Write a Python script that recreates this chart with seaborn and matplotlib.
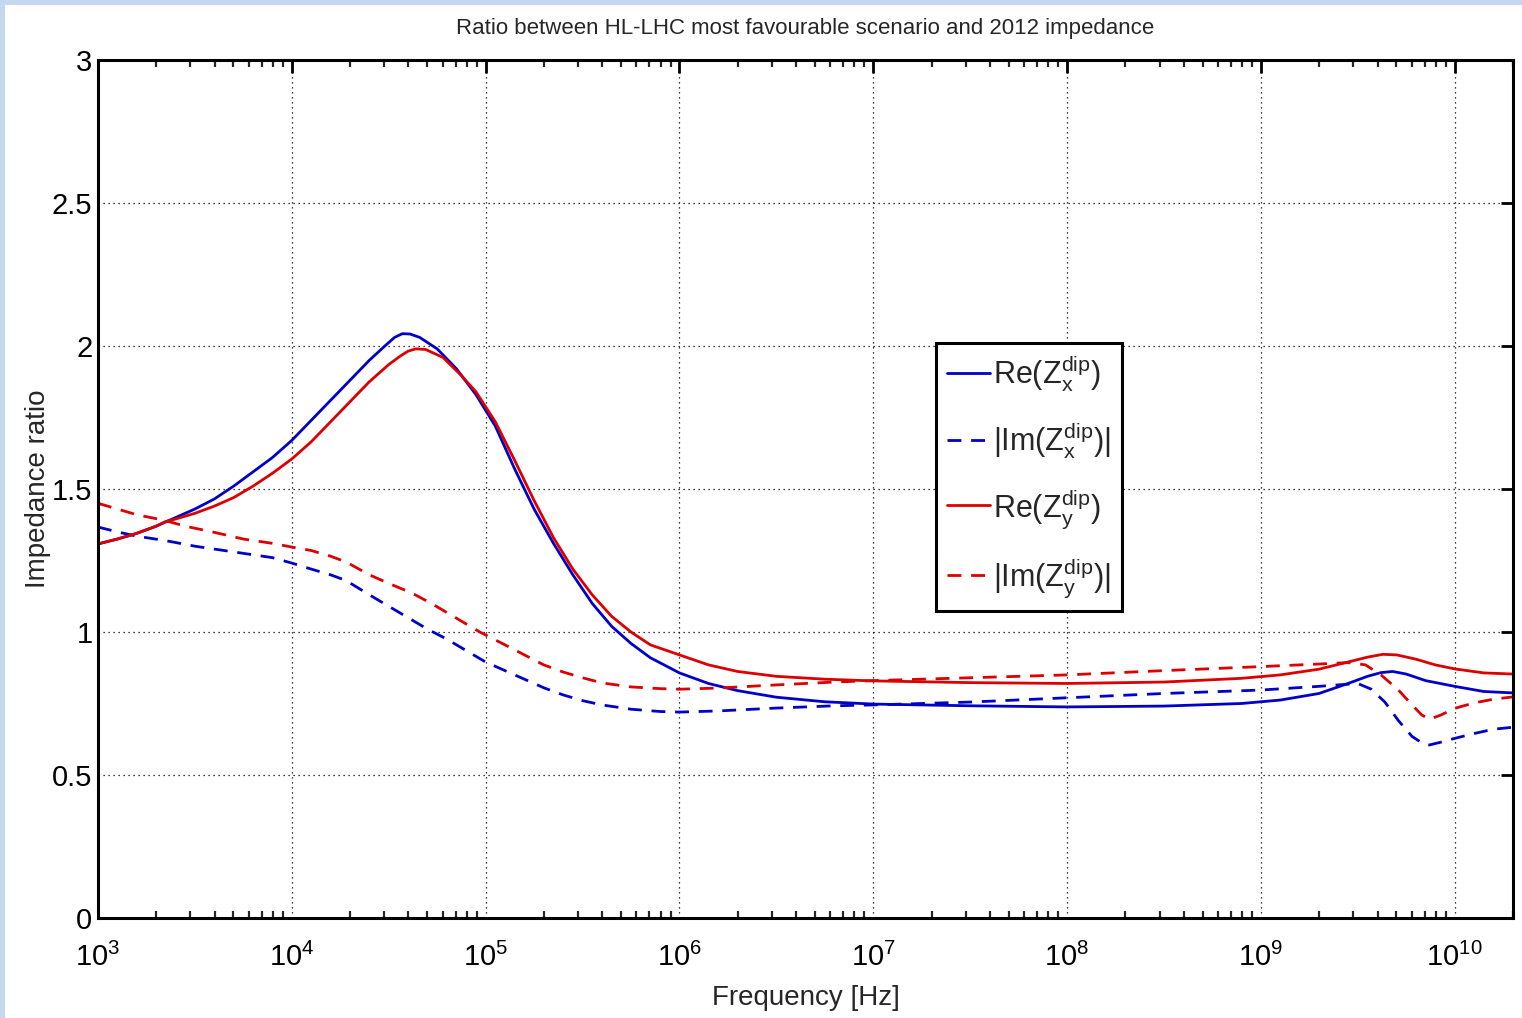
import numpy as np
import pandas as pd
import matplotlib
matplotlib.use("Agg")
import matplotlib.pyplot as plt
from matplotlib.patches import Rectangle
from matplotlib.ticker import FixedLocator, NullFormatter
import seaborn as sns

# ---- data ----
# Re(Zx) blue solid: log10(frequency) and ratio
re_x_logf = [3.0, 3.1, 3.2, 3.3, 3.4, 3.5, 3.6, 3.7, 3.8, 3.9, 4.0, 4.1, 4.2, 4.3, 4.4,
             4.48, 4.53, 4.57, 4.61, 4.66, 4.75, 4.85, 4.95, 5.05, 5.15, 5.25, 5.35, 5.45,
             5.55, 5.65, 5.75, 5.85, 6.0, 6.15, 6.3, 6.5, 6.75, 7.0, 7.5, 8.0, 8.5, 8.9,
             9.1, 9.3, 9.45, 9.55, 9.62, 9.68, 9.75, 9.85, 10.0, 10.15, 10.3]
re_x_val = [1.308, 1.325, 1.345, 1.37, 1.40, 1.43, 1.465, 1.51, 1.56, 1.61, 1.67, 1.74,
            1.81, 1.88, 1.95, 2.0, 2.03, 2.043, 2.042, 2.03, 1.99, 1.92, 1.83, 1.72, 1.57,
            1.43, 1.31, 1.20, 1.10, 1.02, 0.96, 0.91, 0.857, 0.82, 0.795, 0.772, 0.756,
            0.748, 0.742, 0.738, 0.741, 0.75, 0.762, 0.785, 0.82, 0.845, 0.858, 0.862,
            0.853, 0.83, 0.81, 0.792, 0.787]

# |Im(Zx)| blue dashed
im_x_logf = [3.0, 3.1, 3.2, 3.345, 3.5, 3.6, 3.75, 3.9, 4.0, 4.1, 4.2, 4.28, 4.4, 4.5,
             4.6, 4.7, 4.8, 4.9, 5.0, 5.1, 5.2, 5.3, 5.4, 5.5, 5.6, 5.75, 5.9, 6.0, 6.2,
             6.5, 6.8, 7.0, 7.5, 8.0, 8.5, 9.0, 9.3, 9.5, 9.57, 9.64, 9.71, 9.78, 9.84,
             9.87, 9.93, 10.0, 10.1, 10.2, 10.3]
im_x_val = [1.367, 1.35, 1.335, 1.32, 1.30, 1.29, 1.275, 1.26, 1.241, 1.22, 1.20, 1.18,
            1.13, 1.09, 1.05, 1.01, 0.975, 0.935, 0.895, 0.865, 0.835, 0.805, 0.78, 0.76,
            0.745, 0.73, 0.722, 0.72, 0.724, 0.734, 0.742, 0.745, 0.755, 0.77, 0.785,
            0.797, 0.81, 0.82, 0.80, 0.755, 0.69, 0.635, 0.608, 0.605, 0.615, 0.628, 0.645,
            0.66, 0.667]

# Re(Zy) red solid
re_y_logf = [3.0, 3.1, 3.2, 3.3, 3.345, 3.4, 3.5, 3.6, 3.7, 3.8, 3.9, 4.0, 4.1, 4.2, 4.3,
             4.4, 4.5, 4.56, 4.6, 4.64, 4.69, 4.78, 4.87, 4.95, 5.05, 5.15, 5.25, 5.35,
             5.45, 5.55, 5.65, 5.75, 5.85, 6.0, 6.15, 6.3, 6.5, 6.75, 7.0, 7.5, 8.0, 8.5,
             8.9, 9.1, 9.3, 9.45, 9.55, 9.63, 9.7, 9.8, 9.9, 10.0, 10.15, 10.3]
re_y_val = [1.308, 1.325, 1.345, 1.37, 1.385, 1.395, 1.415, 1.44, 1.47, 1.51, 1.555,
            1.605, 1.665, 1.735, 1.805, 1.875, 1.935, 1.965, 1.982, 1.99, 1.988, 1.96,
            1.90, 1.84, 1.735, 1.60, 1.46, 1.33, 1.22, 1.13, 1.055, 1.00, 0.955, 0.92,
            0.885, 0.862, 0.845, 0.835, 0.829, 0.823, 0.82, 0.825, 0.838, 0.85, 0.87,
            0.895, 0.912, 0.922, 0.92, 0.905, 0.885, 0.871, 0.857, 0.853]

# |Im(Zy)| red dashed
im_y_logf = [3.0, 3.1, 3.2, 3.345, 3.45, 3.59, 3.75, 3.9, 4.0, 4.1, 4.2, 4.28, 4.4, 4.5,
             4.62, 4.72, 4.82, 4.97, 5.1, 5.2, 5.3, 5.4, 5.5, 5.6, 5.75, 5.9, 6.0, 6.2,
             6.5, 6.8, 7.0, 7.5, 8.0, 8.5, 9.0, 9.3, 9.45, 9.54, 9.62, 9.71, 9.78, 9.83,
             9.87, 9.93, 10.0, 10.1, 10.2, 10.3]
im_y_val = [1.45, 1.43, 1.41, 1.39, 1.37, 1.35, 1.325, 1.31, 1.297, 1.285, 1.265, 1.245,
            1.20, 1.17, 1.136, 1.10, 1.06, 1.00, 0.955, 0.92, 0.885, 0.86, 0.84, 0.822,
            0.808, 0.802, 0.80, 0.804, 0.815, 0.825, 0.83, 0.84, 0.85, 0.865, 0.879, 0.888,
            0.893, 0.885, 0.85, 0.797, 0.745, 0.71, 0.695, 0.71, 0.733, 0.752, 0.765, 0.773]

series = [
    (r"Re(Z$_\mathrm{x}^\mathrm{dip}$)", re_x_logf, re_x_val, "#0000c8", "-"),
    (r"|Im(Z$_\mathrm{x}^\mathrm{dip}$)|", im_x_logf, im_x_val, "#0000c8", "--"),
    (r"Re(Z$_\mathrm{y}^\mathrm{dip}$)", re_y_logf, re_y_val, "#dc0000", "-"),
    (r"|Im(Z$_\mathrm{y}^\mathrm{dip}$)|", im_y_logf, im_y_val, "#dc0000", "--"),
]

y_ticks = [0, 0.5, 1, 1.5, 2, 2.5, 3]
y_ticklabels = ["0", "0.5", "1", "1.5", "2", "2.5", "3"]
x_decades = [3, 4, 5, 6, 7, 8, 9, 10]
x_ticklabels = [r"$\mathdefault{10^{%d}}$" % d for d in x_decades]

# ---- style ----
sns.set_theme(style="white")
plt.rcParams["font.family"] = ["Liberation Sans", "DejaVu Sans"]
plt.rcParams["mathtext.fontset"] = "custom"
plt.rcParams["mathtext.rm"] = "Liberation Sans"
plt.rcParams["mathtext.it"] = "Liberation Sans:italic"
plt.rcParams["mathtext.default"] = "rm"

fig = plt.figure(figsize=(15.22, 10.18), dpi=100, facecolor="white")
# light blue frame strips (top and left)
fig.patches.append(Rectangle((0, 1 - 5 / 1018), 1, 5 / 1018, transform=fig.transFigure,
                             facecolor="#c6d8ef", edgecolor="none", zorder=0))
fig.patches.append(Rectangle((0, 0), 5 / 1522, 1, transform=fig.transFigure,
                             facecolor="#c6d8ef", edgecolor="none", zorder=0))

ax = fig.add_axes([98 / 1522, 100 / 1018, 1415 / 1522, 858 / 1018])

for label, lf, v, c, ls in series:
    df = pd.DataFrame({"f": np.power(10.0, lf), "v": v})
    sns.lineplot(data=df, x="f", y="v", ax=ax, color=c, linestyle=ls, linewidth=2.0,
                 label=label, sort=False, estimator=None)
    if ls == "--":
        ax.lines[-1].set_dashes([5, 3.5])

ax.set_xscale("log")
ax.set_xlim(1e3, 2e10)
ax.set_ylim(0, 3)
ax.set_yticks(y_ticks)
ax.set_yticklabels(y_ticklabels)
major = [10.0 ** d for d in x_decades]
minor = [m * 10.0 ** d for d in x_decades for m in range(2, 10) if m * 10.0 ** d <= 2e10]
ax.xaxis.set_major_locator(FixedLocator(major))
ax.set_xticklabels(x_ticklabels)
ax.xaxis.set_minor_locator(FixedLocator(minor))
ax.xaxis.set_minor_formatter(NullFormatter())

ax.grid(True, which="major", color="black", linestyle=(0, (1, 3)), linewidth=0.9)
for s in ax.spines.values():
    s.set_visible(True)
    s.set_color("black")
    s.set_linewidth(2.2)

ax.tick_params(axis="both", which="major", direction="in", length=9, width=2,
               top=True, right=True, labelsize=21, colors="black", pad=4)
ax.tick_params(axis="x", which="minor", direction="in", length=5, width=1.6,
               top=True, bottom=True)
ax.tick_params(axis="x", which="major", pad=18)

ax.set_xlabel("Frequency [Hz]", fontsize=20, labelpad=9)
ax.set_ylabel("Impedance ratio", fontsize=20, labelpad=1)
ax.set_title("Ratio between HL-LHC most favourable scenario and 2012 impedance",
             fontsize=16, pad=19)

leg = ax.legend(loc="center", bbox_to_anchor=(0.658, 0.514), fontsize=22,
                handlelength=1.4, handletextpad=0.12, labelspacing=0.85,
                borderpad=0.35, borderaxespad=0, frameon=True, fancybox=False,
                framealpha=1, edgecolor="black")
leg.get_frame().set_linewidth(2.2)

fig.savefig("out.png", dpi=100, facecolor="white")
